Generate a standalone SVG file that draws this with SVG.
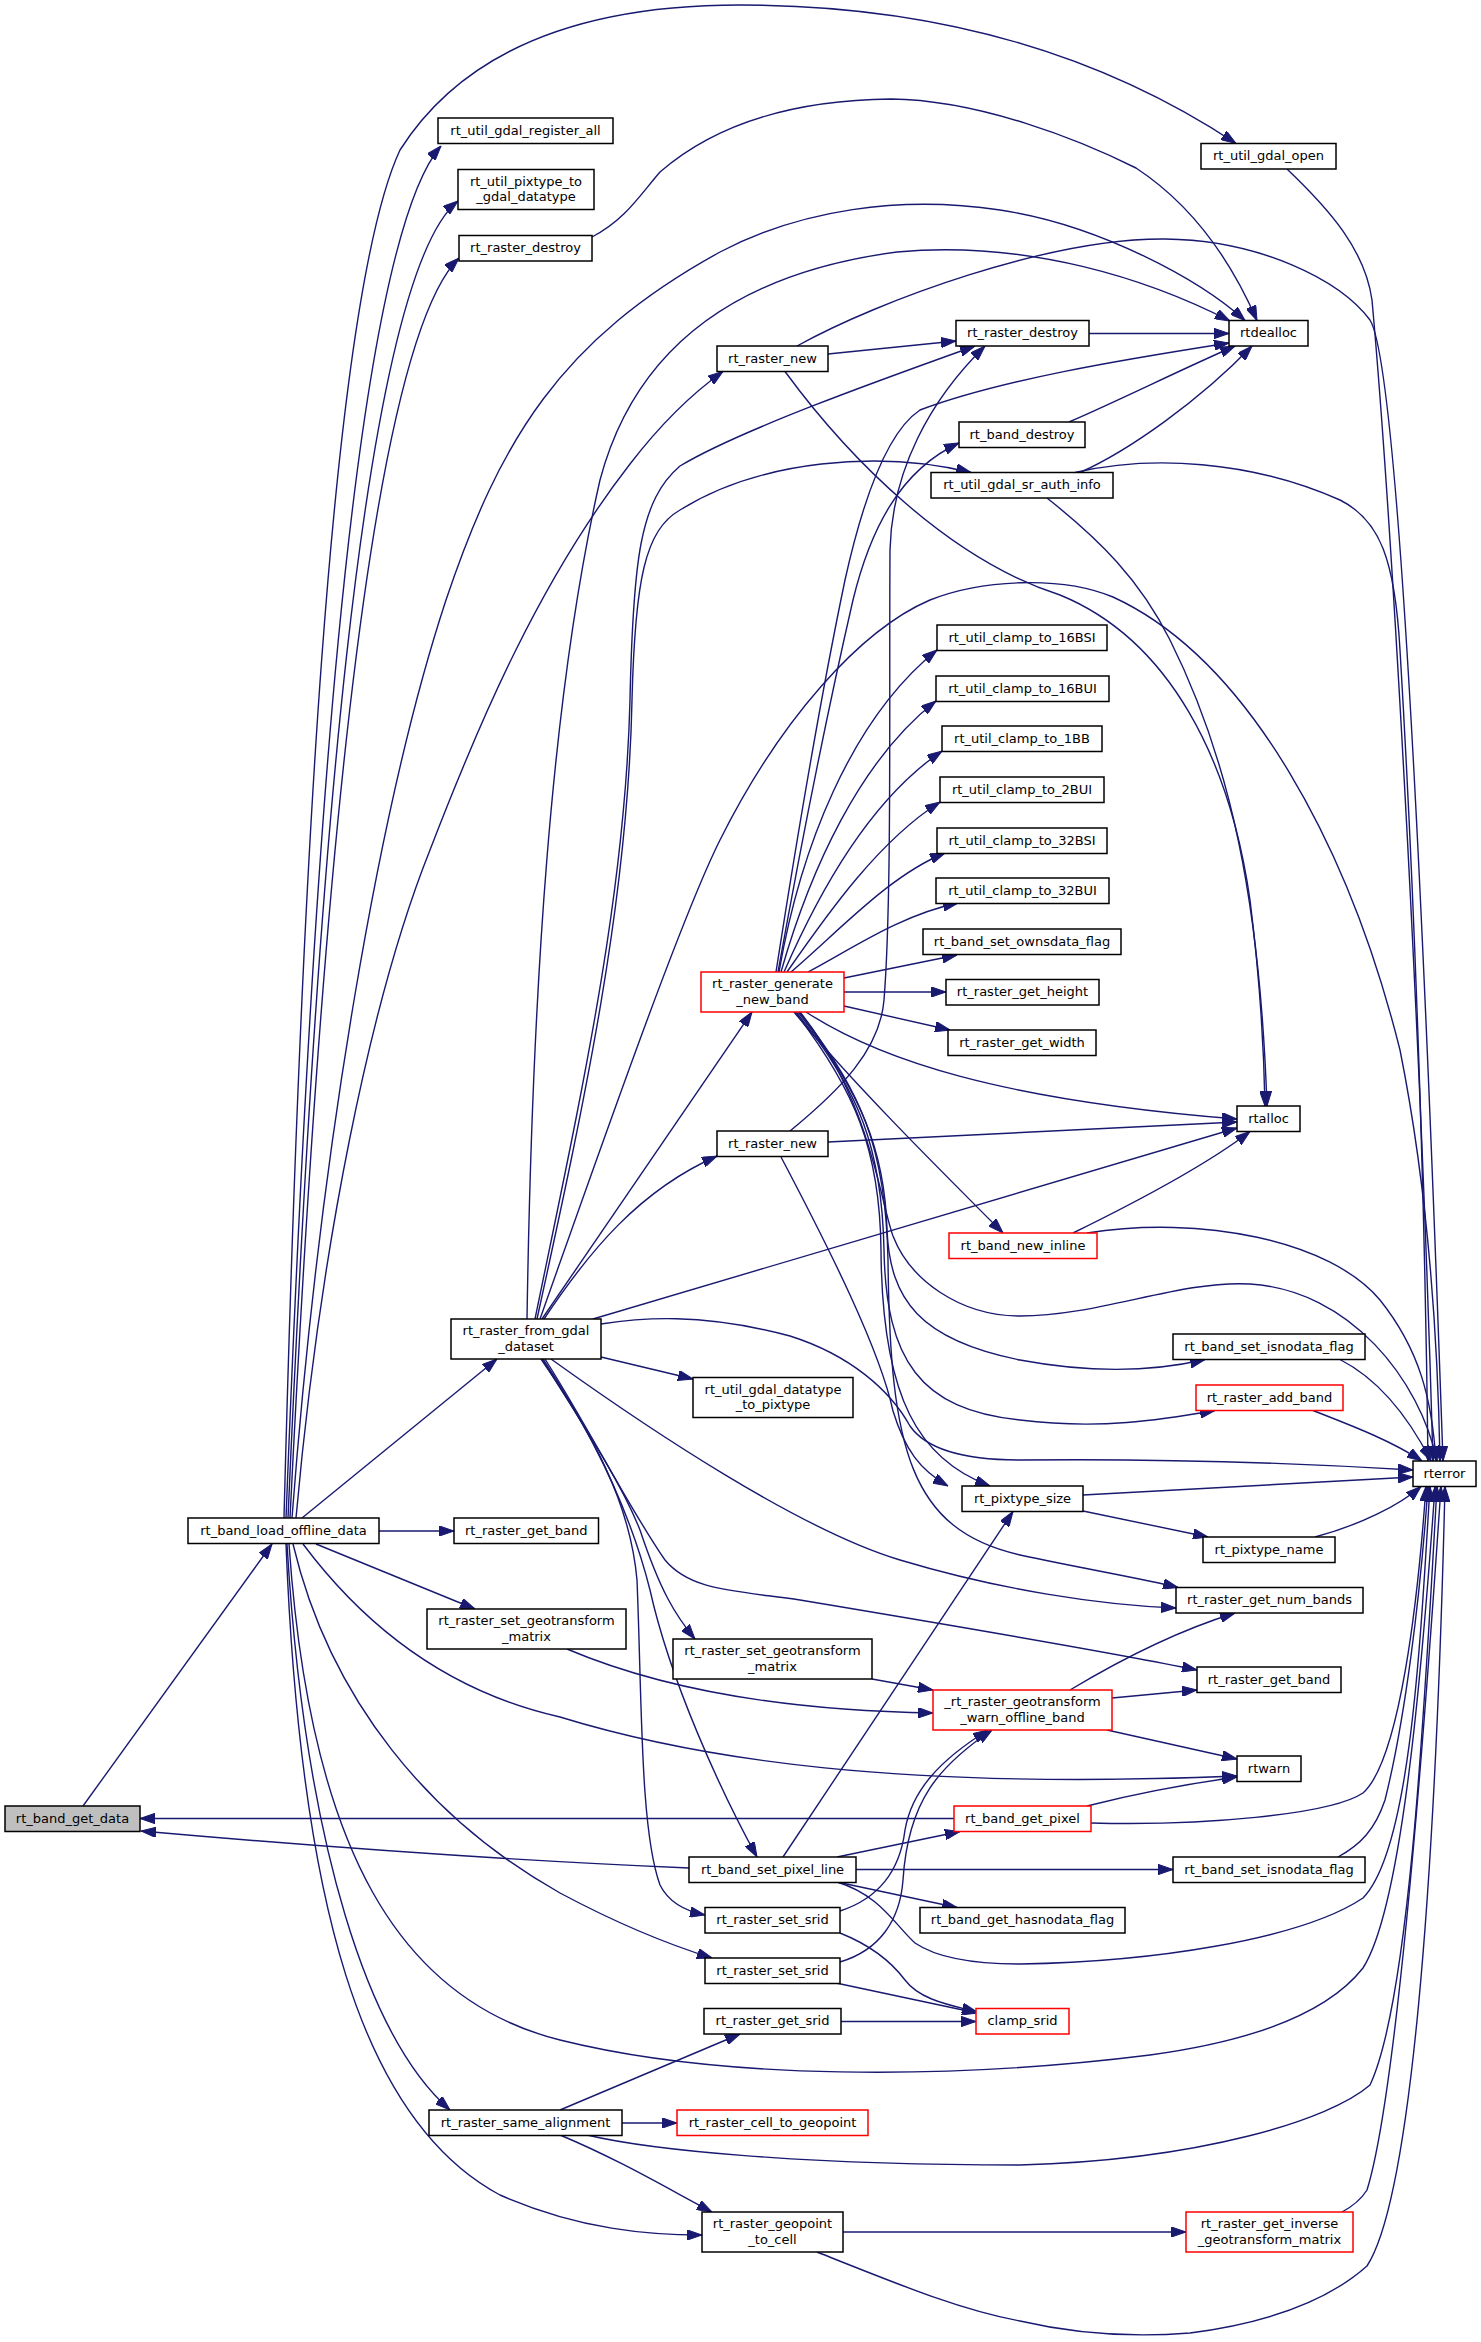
<svg xmlns="http://www.w3.org/2000/svg" width="1481" height="2342" viewBox="0 0 1481 2342">
<style>
.n rect{fill:#ffffff;stroke:#000000;stroke-width:1.5}
.n.r rect{stroke:#ff0000}
.n.g rect{fill:#bfbfbf}
.n text{font-family:"DejaVu Sans","Liberation Sans",sans-serif;font-size:13px;text-anchor:middle;fill:#000000}
.e path{fill:none;stroke:#191970;stroke-width:1.4;marker-end:url(#a)}
</style>
<defs>
<marker id="a" viewBox="0 0 15 10.4" refX="15" refY="5.2" markerWidth="15" markerHeight="10.4" markerUnits="userSpaceOnUse" orient="auto">
<path d="M0,0 L15,5.2 L0,10.4 Z" fill="#191970" stroke="#191970" stroke-width="1"/>
</marker>
</defs>
<rect x="0" y="0" width="1481" height="2342" fill="#ffffff"/>
<g id="edges" class="e">
<path d="M83,1806 L272,1544"/>
<path d="M286,1518 C310,900 350,250 441,146"/>
<path d="M284,1518 C300,900 330,300 400,150 C470,40 600,5 740,5 C950,5 1110,60 1236,143.5"/>
<path d="M288,1518 C315,900 360,280 458,201"/>
<path d="M290,1518 C318,950 365,350 459,258"/>
<path d="M292,1518 C320,1150 380,800 446,600 C500,440 560,340 720,252 C800,210 900,195 1000,210 C1100,225 1200,280 1245,320.5"/>
<path d="M296,1518 C320,1250 370,1000 430,850 C480,720 540,580 630,464 C660,425 690,395 723,371.5"/>
<path d="M302,1518 L497,1359"/>
<path d="M379,1531 L454,1531"/>
<path d="M316,1544 L475,1609"/>
<path d="M303,1544 C360,1620 440,1690 560,1717 C700,1760 900,1790 1237,1776"/>
<path d="M293,1544 C330,1700 430,1820 560,1893 C620,1925 670,1945 712,1958"/>
<path d="M287,1544 C305,1850 370,2040 450,2110"/>
<path d="M286,1544 C300,1900 360,2120 500,2195 C580,2230 650,2235 702,2235"/>
<path d="M289,1544 C310,1850 400,2000 560,2040 C720,2080 950,2080 1150,2055 C1260,2040 1330,2010 1363,1968 C1400,1910 1420,1700 1435,1487"/>
<path d="M527,1319 C532,1000 550,700 600,480 C640,330 760,270 897,252 C1030,240 1150,280 1230,321"/>
<path d="M535,1319 C580,1100 625,900 630,700 C633,560 640,500 680,466 C740,430 880,380 975,346"/>
<path d="M537,1319 C585,1100 628,900 632,700 C635,580 645,530 680,510 C760,460 880,450 971,472.5"/>
<path d="M540,1319 C600,1150 680,920 720,840 C780,720 860,630 930,600 C980,580 1060,575 1113,597 C1250,660 1350,850 1400,1050 C1430,1200 1438,1350 1440,1461"/>
<path d="M542,1319 L752,1012"/>
<path d="M544,1319 C590,1250 640,1190 717,1156"/>
<path d="M593,1319 L1237,1128"/>
<path d="M601,1357 L693,1379"/>
<path d="M542,1359 C580,1420 620,1480 640,1530 C660,1590 675,1615 695,1639"/>
<path d="M541,1359 C590,1430 630,1500 637,1580 C642,1700 640,1830 660,1885 C670,1905 690,1912 705,1915"/>
<path d="M543,1359 C590,1430 630,1510 650,1590 C670,1680 720,1790 757,1857"/>
<path d="M551,1359 C650,1430 800,1530 900,1560 C1000,1590 1100,1605 1176,1608"/>
<path d="M545,1359 C590,1430 630,1510 665,1560 C690,1590 730,1590 800,1600 C950,1625 1100,1650 1197,1670"/>
<path d="M601,1324 C640,1318 700,1312 790,1336 C850,1355 890,1390 910,1426 C930,1455 980,1460 1020,1460 C1200,1458 1330,1465 1413,1470"/>
<path d="M592,237 C625,220 640,195 660,172 C720,120 800,100 891,99 C980,100 1080,140 1136,168 C1200,210 1235,270 1257,320.5"/>
<path d="M1287,169 C1330,210 1365,250 1372,300 C1390,500 1420,1000 1433,1461"/>
<path d="M828,354 L956,341"/>
<path d="M797,346 C880,300 1050,238 1165,239 C1260,240 1340,280 1370,320 C1395,360 1420,800 1443,1461"/>
<path d="M785,371.5 C850,460 950,560 1060,595 C1170,640 1230,760 1250,900 C1260,980 1264,1050 1265,1106"/>
<path d="M1089,333.5 L1229,333.5"/>
<path d="M1069,422 C1120,400 1180,370 1235,346"/>
<path d="M1080,472.5 C1130,450 1200,400 1252,346"/>
<path d="M1075,472.5 C1150,455 1250,460 1340,500 C1380,520 1395,560 1400,650 C1415,900 1425,1200 1428,1461"/>
<path d="M1047,498 C1100,540 1140,580 1170,640 C1230,760 1260,900 1267,1106"/>
<path d="M776,972 C795,850 820,700 845,580 C865,490 890,430 920,410 C1000,380 1120,360 1229,343"/>
<path d="M778,972 C800,850 830,700 853,600 C870,530 900,470 959,443"/>
<path d="M779,972 C800,850 850,720 937,650"/>
<path d="M781,972 C810,870 860,760 936,701"/>
<path d="M784,972 C820,890 870,800 942,751"/>
<path d="M787,972 C830,910 880,840 940,802"/>
<path d="M791,972 C840,930 890,875 945,853"/>
<path d="M808,972 C850,950 900,915 958,903"/>
<path d="M844,978 L957,955"/>
<path d="M844,992 L946,992"/>
<path d="M844,1006 L950,1030"/>
<path d="M806,1012 C880,1060 1000,1100 1237,1119"/>
<path d="M794,1012 C850,1080 930,1160 1003,1233"/>
<path d="M800,1012 C870,1100 880,1200 893,1236 C910,1280 960,1316 1020,1316 C1100,1316 1180,1280 1250,1284 C1350,1290 1420,1380 1437,1461"/>
<path d="M798,1012 C860,1090 885,1150 887,1230 C890,1300 920,1340 1020,1360 C1100,1375 1160,1370 1205,1359.5"/>
<path d="M796,1012 C860,1090 882,1150 884,1250 C886,1360 920,1410 1020,1420 C1100,1430 1160,1420 1215,1410.5"/>
<path d="M795,1012 C855,1090 880,1150 881,1250 C882,1400 920,1460 990,1486"/>
<path d="M799,1012 C862,1090 886,1150 888,1260 C890,1450 910,1530 1020,1555 C1090,1570 1140,1578 1178,1587.5"/>
<path d="M790,1131 C840,1090 880,1050 884,1000 C892,900 889,700 890,550 C892,470 930,400 985,346"/>
<path d="M828,1142 L1237,1122"/>
<path d="M781,1157 C830,1250 880,1350 893,1411 C905,1450 920,1470 948,1486"/>
<path d="M1073,1233 C1120,1210 1200,1170 1250,1131.5"/>
<path d="M1087,1233 C1200,1215 1330,1240 1380,1300 C1420,1350 1432,1400 1436,1461"/>
<path d="M1340,1359.5 C1380,1380 1410,1420 1431,1461"/>
<path d="M1313,1410.5 C1350,1425 1390,1440 1422,1461"/>
<path d="M1083,1495 L1413,1477"/>
<path d="M1083,1511 L1208,1537"/>
<path d="M1315,1537 C1360,1525 1400,1505 1421,1486.5"/>
<path d="M1070,1690 C1120,1660 1180,1630 1235,1613"/>
<path d="M1112,1698 L1197,1690"/>
<path d="M1107,1730 L1237,1759"/>
<path d="M567,1649 C640,1680 750,1710 933,1713"/>
<path d="M872,1679 L933,1690"/>
<path d="M689,1868 C500,1860 300,1845 141,1831"/>
<path d="M954,1818.5 L140,1818.5"/>
<path d="M783,1857 L1013,1511.5"/>
<path d="M837,1857 L960,1831.5"/>
<path d="M856,1869.5 L1173,1869.5"/>
<path d="M837,1882 L957,1907.5"/>
<path d="M837,1882 C880,1895 895,1925 915,1943 C940,1960 980,1964 1020,1964 C1150,1962 1300,1940 1363,1898 C1410,1850 1420,1650 1430,1486.5"/>
<path d="M1087,1806 C1130,1795 1180,1785 1237,1777"/>
<path d="M1091,1823 C1200,1826 1330,1815 1363,1793 C1400,1760 1418,1600 1426,1486.5"/>
<path d="M1338,1857 C1360,1845 1375,1830 1385,1800 C1405,1720 1420,1600 1428,1486.5"/>
<path d="M840,1933 C870,1945 890,1960 905,1980 C920,2000 950,2005 977,2012"/>
<path d="M836,1983 L977,2013"/>
<path d="M840,1911 C880,1898 900,1870 905,1830 C912,1790 940,1760 988,1730"/>
<path d="M840,1962 C880,1950 900,1920 903,1880 C908,1800 940,1765 992,1730"/>
<path d="M841,2021.5 L976,2021.5"/>
<path d="M560,2110 L740,2034"/>
<path d="M622,2123 L677,2123"/>
<path d="M560,2135 C620,2160 670,2190 712,2212"/>
<path d="M587,2135 C650,2150 800,2165 1020,2165 C1200,2160 1330,2120 1370,2085 C1410,2000 1425,1700 1437,1486.5"/>
<path d="M843,2232 L1186,2232"/>
<path d="M817,2252 C900,2285 960,2310 1020,2321 C1080,2335 1140,2337 1190,2333 C1290,2320 1340,2290 1367,2266 C1410,2200 1435,1900 1445,1486.5"/>
<path d="M1342,2212 C1355,2205 1362,2198 1367,2190 C1395,2100 1420,1800 1441,1486.5"/>
</g>
<g id="n_band_get_data" class="n g"><rect x="5" y="1806" width="135" height="25.5"/><text x="72.5" y="1822.75">rt_band_get_data</text></g>
<g id="n_band_load_offline_data" class="n"><rect x="188" y="1518" width="191" height="25.5"/><text x="283.5" y="1534.75">rt_band_load_offline_data</text></g>
<g id="n_raster_from_gdal_dataset" class="n"><rect x="451" y="1319" width="150" height="40"/><text x="526" y="1335.2">rt_raster_from_gdal</text><text x="526" y="1350.7">_dataset</text></g>
<g id="n_util_gdal_register_all" class="n"><rect x="438" y="118" width="175" height="25.5"/><text x="525.5" y="134.75">rt_util_gdal_register_all</text></g>
<g id="n_util_pixtype_to_gdal_datatype" class="n"><rect x="458" y="169.5" width="136" height="40"/><text x="526" y="185.7">rt_util_pixtype_to</text><text x="526" y="201.2">_gdal_datatype</text></g>
<g id="n_raster_destroy_1" class="n"><rect x="459" y="235.5" width="133" height="25.5"/><text x="525.5" y="252.25">rt_raster_destroy</text></g>
<g id="n_raster_get_band_1" class="n"><rect x="454" y="1518" width="144.5" height="25.5"/><text x="526.25" y="1534.75">rt_raster_get_band</text></g>
<g id="n_raster_set_geotransform_matrix_1" class="n"><rect x="427" y="1609" width="199" height="40"/><text x="526.5" y="1625.2">rt_raster_set_geotransform</text><text x="526.5" y="1640.7">_matrix</text></g>
<g id="n_raster_same_alignment" class="n"><rect x="429" y="2110" width="193" height="25.5"/><text x="525.5" y="2126.75">rt_raster_same_alignment</text></g>
<g id="n_raster_new_1" class="n"><rect x="717" y="346" width="111" height="25.5"/><text x="772.5" y="362.75">rt_raster_new</text></g>
<g id="n_raster_generate_new_band" class="n r"><rect x="701" y="972" width="143" height="40"/><text x="772.5" y="988.2">rt_raster_generate</text><text x="772.5" y="1003.7">_new_band</text></g>
<g id="n_raster_new_2" class="n"><rect x="717" y="1131" width="111" height="25.5"/><text x="772.5" y="1147.75">rt_raster_new</text></g>
<g id="n_util_gdal_datatype_to_pixtype" class="n"><rect x="693" y="1377.5" width="160" height="40"/><text x="773" y="1393.7">rt_util_gdal_datatype</text><text x="773" y="1409.2">_to_pixtype</text></g>
<g id="n_raster_set_geotransform_matrix_2" class="n"><rect x="673" y="1639" width="199" height="40"/><text x="772.5" y="1655.2">rt_raster_set_geotransform</text><text x="772.5" y="1670.7">_matrix</text></g>
<g id="n_band_set_pixel_line" class="n"><rect x="689" y="1857" width="167" height="25.5"/><text x="772.5" y="1873.75">rt_band_set_pixel_line</text></g>
<g id="n_raster_set_srid_1" class="n"><rect x="705" y="1907.5" width="135" height="25.5"/><text x="772.5" y="1924.25">rt_raster_set_srid</text></g>
<g id="n_raster_set_srid_2" class="n"><rect x="705" y="1958" width="135" height="25.5"/><text x="772.5" y="1974.75">rt_raster_set_srid</text></g>
<g id="n_raster_get_srid" class="n"><rect x="704" y="2008.5" width="137" height="25.5"/><text x="772.5" y="2025.25">rt_raster_get_srid</text></g>
<g id="n_raster_cell_to_geopoint" class="n r"><rect x="677" y="2110" width="191" height="25.5"/><text x="772.5" y="2126.75">rt_raster_cell_to_geopoint</text></g>
<g id="n_raster_geopoint_to_cell" class="n"><rect x="702" y="2212" width="141" height="40"/><text x="772.5" y="2228.2">rt_raster_geopoint</text><text x="772.5" y="2243.7">_to_cell</text></g>
<g id="n_raster_destroy_2" class="n"><rect x="956" y="320.5" width="133" height="25.5"/><text x="1022.5" y="337.25">rt_raster_destroy</text></g>
<g id="n_band_destroy" class="n"><rect x="959" y="422" width="126" height="25.5"/><text x="1022" y="438.75">rt_band_destroy</text></g>
<g id="n_util_gdal_sr_auth_info" class="n"><rect x="931" y="472.5" width="182" height="25.5"/><text x="1022" y="489.25">rt_util_gdal_sr_auth_info</text></g>
<g id="n_clamp_16BSI" class="n"><rect x="937" y="625" width="170" height="25.5"/><text x="1022" y="641.75">rt_util_clamp_to_16BSI</text></g>
<g id="n_clamp_16BUI" class="n"><rect x="936" y="676" width="173" height="25.5"/><text x="1022.5" y="692.75">rt_util_clamp_to_16BUI</text></g>
<g id="n_clamp_1BB" class="n"><rect x="942" y="726" width="160" height="25.5"/><text x="1022" y="742.75">rt_util_clamp_to_1BB</text></g>
<g id="n_clamp_2BUI" class="n"><rect x="940" y="777" width="164" height="25.5"/><text x="1022" y="793.75">rt_util_clamp_to_2BUI</text></g>
<g id="n_clamp_32BSI" class="n"><rect x="937" y="828" width="170" height="25.5"/><text x="1022" y="844.75">rt_util_clamp_to_32BSI</text></g>
<g id="n_clamp_32BUI" class="n"><rect x="936" y="878" width="173" height="25.5"/><text x="1022.5" y="894.75">rt_util_clamp_to_32BUI</text></g>
<g id="n_band_set_ownsdata_flag" class="n"><rect x="923" y="929" width="198" height="25.5"/><text x="1022" y="945.75">rt_band_set_ownsdata_flag</text></g>
<g id="n_raster_get_height" class="n"><rect x="946" y="979.5" width="153" height="25.5"/><text x="1022.5" y="996.25">rt_raster_get_height</text></g>
<g id="n_raster_get_width" class="n"><rect x="948" y="1030" width="148" height="25.5"/><text x="1022" y="1046.75">rt_raster_get_width</text></g>
<g id="n_band_new_inline" class="n r"><rect x="949" y="1233" width="148" height="25.5"/><text x="1023" y="1249.75">rt_band_new_inline</text></g>
<g id="n_pixtype_size" class="n"><rect x="962" y="1486" width="121" height="25.5"/><text x="1022.5" y="1502.75">rt_pixtype_size</text></g>
<g id="n_warn_offline_band" class="n r"><rect x="933" y="1690" width="179" height="40"/><text x="1022.5" y="1706.2">_rt_raster_geotransform</text><text x="1022.5" y="1721.7">_warn_offline_band</text></g>
<g id="n_band_get_pixel" class="n r"><rect x="954" y="1806" width="137" height="25.5"/><text x="1022.5" y="1822.75">rt_band_get_pixel</text></g>
<g id="n_band_get_hasnodata_flag" class="n"><rect x="920" y="1907.5" width="205" height="25.5"/><text x="1022.5" y="1924.25">rt_band_get_hasnodata_flag</text></g>
<g id="n_clamp_srid" class="n r"><rect x="976" y="2008.5" width="93" height="25.5"/><text x="1022.5" y="2025.25">clamp_srid</text></g>
<g id="n_util_gdal_open" class="n"><rect x="1201" y="143.5" width="135" height="25.5"/><text x="1268.5" y="160.25">rt_util_gdal_open</text></g>
<g id="n_rtdealloc" class="n"><rect x="1229" y="320.5" width="79" height="25.5"/><text x="1268.5" y="337.25">rtdealloc</text></g>
<g id="n_rtalloc" class="n"><rect x="1237" y="1106" width="63" height="25.5"/><text x="1268.5" y="1122.75">rtalloc</text></g>
<g id="n_band_set_isnodata_flag_1" class="n"><rect x="1173" y="1334" width="192" height="25.5"/><text x="1269" y="1350.75">rt_band_set_isnodata_flag</text></g>
<g id="n_raster_add_band" class="n r"><rect x="1196" y="1385" width="147" height="25.5"/><text x="1269.5" y="1401.75">rt_raster_add_band</text></g>
<g id="n_pixtype_name" class="n"><rect x="1203" y="1537" width="132" height="25.5"/><text x="1269" y="1553.75">rt_pixtype_name</text></g>
<g id="n_raster_get_num_bands" class="n"><rect x="1176" y="1587.5" width="187" height="25.5"/><text x="1269.5" y="1604.25">rt_raster_get_num_bands</text></g>
<g id="n_raster_get_band_2" class="n"><rect x="1197" y="1667" width="144" height="25.5"/><text x="1269" y="1683.75">rt_raster_get_band</text></g>
<g id="n_rtwarn" class="n"><rect x="1237" y="1756" width="64" height="25.5"/><text x="1269" y="1772.75">rtwarn</text></g>
<g id="n_band_set_isnodata_flag_2" class="n"><rect x="1173" y="1857" width="192" height="25.5"/><text x="1269" y="1873.75">rt_band_set_isnodata_flag</text></g>
<g id="n_raster_get_inverse_geotransform_matrix" class="n r"><rect x="1186" y="2212" width="167" height="40"/><text x="1269.5" y="2228.2">rt_raster_get_inverse</text><text x="1269.5" y="2243.7">_geotransform_matrix</text></g>
<g id="n_rterror" class="n"><rect x="1413" y="1461" width="63" height="25.5"/><text x="1444.5" y="1477.75">rterror</text></g>
</svg>
